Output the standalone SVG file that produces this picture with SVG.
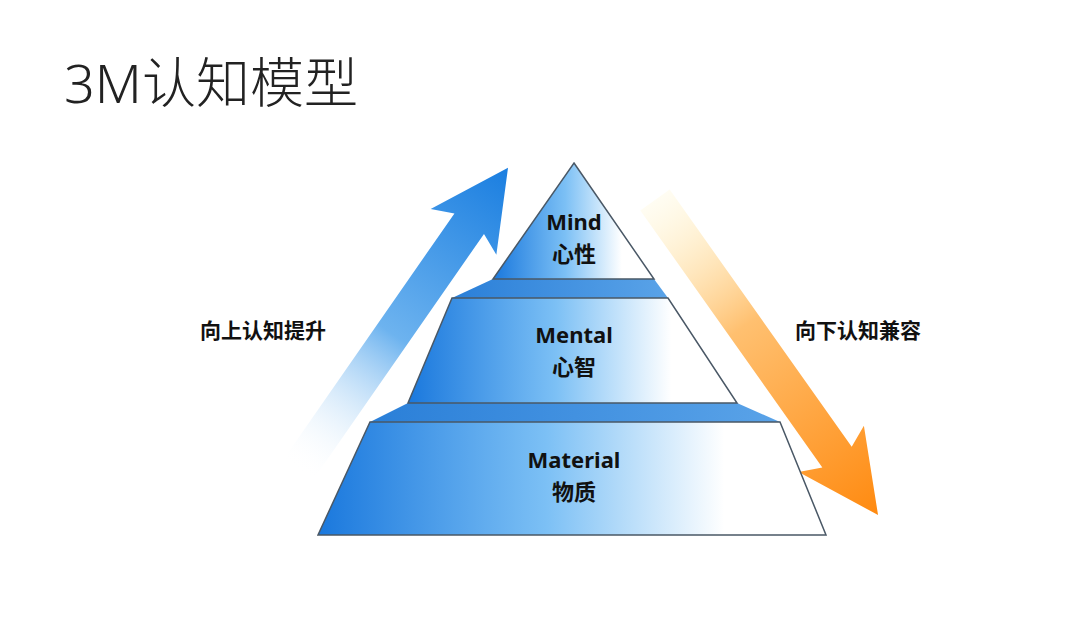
<svg xmlns="http://www.w3.org/2000/svg" width="1080" height="618" viewBox="0 0 1080 618">
<defs>
<linearGradient id="layer" x1="0" y1="0" x2="1" y2="0">
<stop offset="0" stop-color="#1a78dd"/><stop offset="0.45" stop-color="#7cc0f5"/><stop offset="0.8" stop-color="#ffffff"/><stop offset="1" stop-color="#ffffff"/>
</linearGradient>
<linearGradient id="band" x1="0" y1="0" x2="1" y2="0">
<stop offset="0" stop-color="#2a7fd8"/><stop offset="1" stop-color="#5aa3e8"/>
</linearGradient>
<linearGradient id="up" x1="0" y1="0" x2="1" y2="0">
<stop offset="0" stop-color="#ffffff" stop-opacity="0"/><stop offset="0.45" stop-color="#6db3ef"/><stop offset="1" stop-color="#1a7ee0"/>
</linearGradient>
<linearGradient id="down" x1="0" y1="0" x2="1" y2="0">
<stop offset="0" stop-color="#fff3c0" stop-opacity="0.2"/><stop offset="0.4" stop-color="#ffc070"/><stop offset="1" stop-color="#ff8a10"/>
</linearGradient>
<style>
.lay{fill:url(#layer);stroke:#4a5866;stroke-width:1.5}
.band{fill:url(#band)}
.t{font-family:"Noto Sans","Noto Sans CJK SC",sans-serif;font-weight:bold;font-size:22px;fill:#111;text-anchor:middle}
.side{font-family:"Noto Sans CJK SC",sans-serif;font-weight:bold;font-size:21px;fill:#111}
</style>
</defs>
<rect width="1080" height="618" fill="#ffffff"/>
<text x="64" y="103" font-family="'Noto Sans','Noto Sans CJK SC',sans-serif" font-weight="300" font-size="54" fill="#222">3M认知模型</text>
<g id="connectors">
<g transform="translate(298,470) rotate(-55.2)"><polygon points="0,-18 300,-18 290,-40 368,0 290,40 300,18 0,18" fill="url(#up)"/></g>
<g transform="translate(655,200) rotate(54.7)"><polygon points="0,-18 315,-18 305,-40 386,0 305,40 315,18 0,18" fill="url(#down)"/></g>
</g>
<polygon class="band" points="493,279 654,279 668,298 452,298"/>
<polygon class="band" points="408,403 737,403 780,422 370,422"/>
<g id="mind"><polygon class="lay" points="574,163 654,279 493,279"/>
<text class="t" x="574" y="230">Mind</text><text class="t" x="574" y="262">心性</text></g>
<g id="mental"><polygon class="lay" points="452,298 668,298 737,403 408,403"/>
<text class="t" x="574" y="343">Mental</text><text class="t" x="574" y="375">心智</text></g>
<g id="material"><polygon class="lay" points="370,422 780,422 826,535 318,535"/>
<text class="t" x="574" y="468">Material</text><text class="t" x="574" y="500">物质</text></g>
<text class="side" x="200" y="338">向上认知提升</text>
<text class="side" x="795" y="338">向下认知兼容</text>
</svg>
